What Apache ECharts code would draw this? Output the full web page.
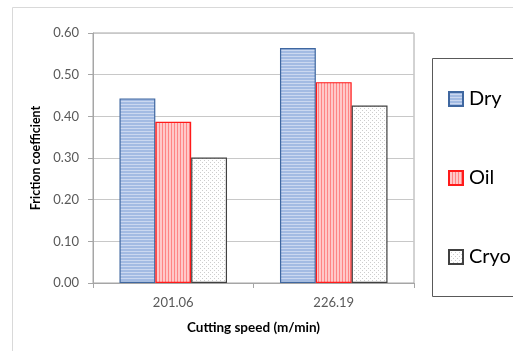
<!DOCTYPE html>
<html>
<head>
<meta charset="utf-8">
<script src="https://cdn.jsdelivr.net/npm/echarts@6/dist/echarts.min.js"></script>
<style>
  html, body { margin: 0; padding: 0; background: #ffffff; }
  #chart { width: 513px; height: 351px; }
</style>
</head>
<body>
<div id="chart"></div>
<script>
// Friction coefficient per cutting speed, for three lubrication conditions
const categories = ['201.06', '226.19'];
const seriesNames = ['Dry', 'Oil', 'Cryo'];
const dryValues = [0.443, 0.564];
const oilValues = [0.387, 0.482];
const cryoValues = [0.301, 0.426];
const yTicks = { min: 0, max: 0.6, interval: 0.1 };

// Small repeating canvas fills for the hatched bars
function makePattern(w, h, draw) {
  const c = document.createElement('canvas');
  c.width = w; c.height = h;
  const ctx = c.getContext('2d');
  draw(ctx);
  return { image: c, repeat: 'repeat' };
}
const dryFill = makePattern(1, 3, ctx => {
  ctx.fillStyle = '#a3bbe3'; ctx.fillRect(0, 0, 1, 3);
  ctx.fillStyle = '#cbd8f0'; ctx.fillRect(0, 2, 1, 1);
});
const oilFill = makePattern(3, 1, ctx => {
  ctx.fillStyle = '#ffc9c9'; ctx.fillRect(0, 0, 3, 1);
  ctx.fillStyle = '#ff8585'; ctx.fillRect(0, 0, 1, 1);
});
const cryoFill = makePattern(4, 4, ctx => {
  ctx.fillStyle = '#ffffff'; ctx.fillRect(0, 0, 4, 4);
  ctx.fillStyle = '#cdcdcd'; ctx.fillRect(0, 0, 1, 1); ctx.fillRect(2, 2, 1, 1);
});

const font = 'Lato, "Open Sans", sans-serif';
const chart = echarts.init(document.getElementById('chart'), null, { renderer: 'canvas' });

chart.setOption({
  animation: false,
  backgroundColor: '#ffffff',
  textStyle: { fontFamily: font },
  graphic: [
    { type: 'rect', shape: { x: 12.5, y: 7.5, width: 520, height: 360 }, style: { fill: 'none', stroke: '#d9d9d9', lineWidth: 1 }, silent: true, z: -10 },
    { type: 'rect', shape: { x: 432.5, y: 58.5, width: 100, height: 238 }, style: { fill: '#ffffff', stroke: '#595959', lineWidth: 1 }, silent: true, z: -5 }
  ],
  grid: {
    left: 93, top: 33, right: 99, bottom: 68,
    show: true, borderColor: '#a6a6a6', borderWidth: 1, backgroundColor: 'transparent'
  },
  legend: {
    orient: 'vertical',
    left: 443, top: 84,
    icon: 'rect',
    itemWidth: 14, itemHeight: 14,
    itemGap: 59,
    textStyle: { fontFamily: font, fontSize: 20, color: '#000000', padding: [0, 0, 0, 1] },
    data: seriesNames
  },
  xAxis: {
    type: 'category',
    data: categories,
    name: 'Cutting speed (m/min)',
    nameLocation: 'middle',
    nameGap: 38,
    nameTextStyle: { fontFamily: font, fontWeight: 'bold', fontSize: 13.5, color: '#000000' },
    axisLine: { lineStyle: { color: '#a6a6a6' } },
    axisTick: { show: true, length: 5, lineStyle: { color: '#a6a6a6' } },
    axisLabel: { fontFamily: font, fontSize: 13, color: '#595959', margin: 13 }
  },
  yAxis: {
    type: 'value',
    min: yTicks.min, max: yTicks.max, interval: yTicks.interval,
    name: 'Friction coefficient',
    nameLocation: 'middle',
    nameGap: 50,
    nameTextStyle: { fontFamily: font, fontWeight: 'bold', fontSize: 12.5, color: '#000000' },
    axisLine: { show: true, lineStyle: { color: '#a6a6a6' } },
    axisTick: { show: true, length: 5, lineStyle: { color: '#a6a6a6' } },
    axisLabel: { fontFamily: font, fontSize: 13, color: '#595959', margin: 14, formatter: v => v.toFixed(2) },
    splitLine: { lineStyle: { color: '#c8c8c8' } }
  },
  series: [
    { name: seriesNames[0], type: 'bar', data: dryValues, barGap: '0%', barCategoryGap: '33%',
      itemStyle: { color: dryFill, borderColor: '#3f67a0', borderWidth: 1.2 } },
    { name: seriesNames[1], type: 'bar', data: oilValues, barGap: '0%', barCategoryGap: '33%',
      itemStyle: { color: oilFill, borderColor: '#ff1a1a', borderWidth: 1.2 } },
    { name: seriesNames[2], type: 'bar', data: cryoValues, barGap: '0%', barCategoryGap: '33%',
      itemStyle: { color: cryoFill, borderColor: '#404040', borderWidth: 1.2 } }
  ]
});
</script>
</body>
</html>
